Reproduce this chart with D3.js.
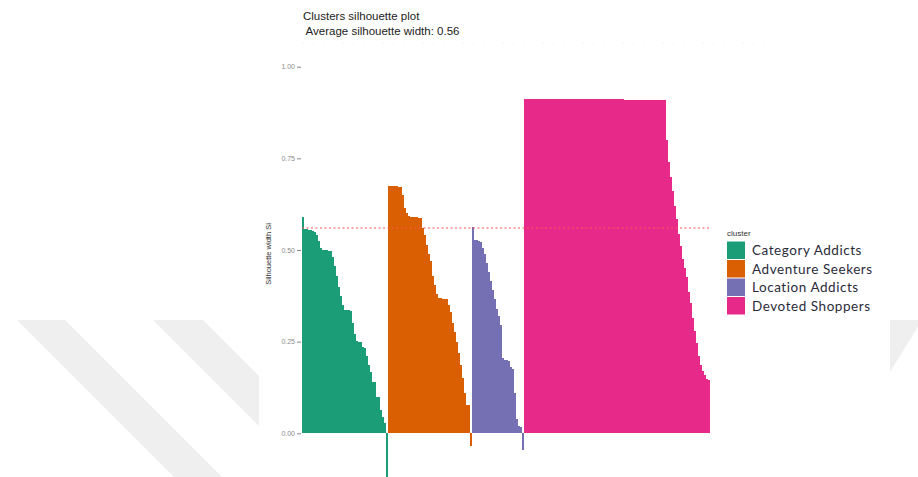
<!DOCTYPE html>
<html>
<head>
<meta charset="utf-8">
<script src="https://cdn.jsdelivr.net/npm/d3@7"></script>
<style>
  body { margin: 0; background: #fff; }
  svg { display: block; }
</style>
</head>
<body>
<script>
// silhouette widths per cluster, sorted as in the plot
const clusters = ['Category Addicts', 'Adventure Seekers', 'Location Addicts', 'Devoted Shoppers'];
const categoryAddicts = [0.59, 0.556, 0.556, 0.555, 0.555, 0.553, 0.55, 0.54, 0.525, 0.505,
  0.5, 0.5, 0.5, 0.498, 0.497, 0.48, 0.455, 0.43, 0.4, 0.375, 0.35,
  0.336, 0.336, 0.335, 0.333, 0.3, 0.27, 0.252, 0.25, 0.248, 0.235, 0.232,
  0.21, 0.185, 0.168, 0.14, 0.14, 0.1, 0.1, 0.064, 0.045, 0.028, -0.13];
const adventureSeekers = [0.675, 0.675, 0.675, 0.675, 0.674, 0.673, 0.672,
  0.65, 0.615, 0.6, 0.592, 0.59, 0.59, 0.59, 0.589, 0.588, 0.587,
  0.56, 0.54, 0.515, 0.49, 0.47, 0.43, 0.405, 0.38,
  0.368, 0.368, 0.367, 0.366, 0.365, 0.35,
  0.33, 0.3, 0.275, 0.25, 0.22, 0.185, 0.15, 0.11, 0.077, 0.076, -0.036];
const locationAddicts = [0.563, 0.527, 0.527, 0.525, 0.522, 0.505, 0.49,
  0.465, 0.44, 0.415, 0.39, 0.365, 0.34, 0.32, 0.295,
  0.205, 0.2, 0.2, 0.198, 0.18, 0.175, 0.11, 0.04, 0.02, 0.017, -0.045];
const devotedShoppers = [
  0.912, 0.912, 0.912, 0.912, 0.912, 0.912, 0.912, 0.912, 0.912, 0.912,
  0.912, 0.912, 0.912, 0.912, 0.912, 0.912, 0.912, 0.912, 0.912, 0.912,
  0.911, 0.911, 0.911, 0.911, 0.911, 0.911, 0.911, 0.911, 0.911, 0.911,
  0.911, 0.911, 0.911, 0.911, 0.911, 0.911, 0.911, 0.911, 0.911, 0.911,
  0.911, 0.911, 0.911, 0.911, 0.911, 0.911, 0.911, 0.911, 0.911, 0.911,
  0.91, 0.91, 0.91, 0.91, 0.91, 0.91, 0.91, 0.91, 0.91, 0.91,
  0.91, 0.91, 0.91, 0.91, 0.91, 0.91, 0.91, 0.91, 0.91, 0.91,
  0.909,
  0.8, 0.74, 0.7, 0.66, 0.62, 0.585, 0.545, 0.51, 0.475, 0.45,
  0.425, 0.385, 0.355, 0.315, 0.28, 0.245, 0.21, 0.186, 0.17, 0.16,
  0.147, 0.145];
const yTicks = [0, 0.25, 0.5, 0.75, 1];
const avgWidth = 0.56;

const colors = ['#1B9E77', '#D95F02', '#7570B3', '#E7298A'];

const W = 918, H = 477;
const svg = d3.select('body').append('svg').attr('width', W).attr('height', H);

// faint watermark stripes behind the pasted plot
const stripe = '#efefef';
svg.append('polygon').attr('points', '17,320 65,320 222,477 174,477').attr('fill', stripe);
svg.append('polygon').attr('points', '153,320 203,320 360,477 310,477').attr('fill', stripe);
svg.append('polygon').attr('points', '890,320 922,320 890,372').attr('fill', stripe);
svg.append('rect').attr('x', 259).attr('y', 0).attr('width', 631).attr('height', H).attr('fill', '#fff');

const rows = [];
[categoryAddicts, adventureSeekers, locationAddicts, devotedShoppers].forEach((vals, c) => {
  vals.forEach((v) => rows.push({ cluster: c, value: v, id: rows.length }));
});

const x = d3.scaleBand().domain(rows.map((d) => d.id)).range([302, 710]).padding(0);
const y = d3.scaleLinear().domain([0, 1]).range([433.3, 66.7]);

svg.append('g')
  .attr('shape-rendering', 'crispEdges')
  .selectAll('rect')
  .data(rows)
  .join('rect')
  .attr('x', (d) => x(d.id))
  .attr('width', x.bandwidth())
  .attr('y', (d) => y(Math.max(0, d.value)))
  .attr('height', (d) => Math.abs(y(d.value) - y(0)))
  .attr('fill', (d) => colors[d.cluster]);

// average silhouette line
svg.append('line')
  .attr('x1', 302).attr('x2', 710)
  .attr('y1', y(avgWidth)).attr('y2', y(avgWidth))
  .attr('stroke', '#f55')
  .attr('stroke-width', 1.2)
  .attr('stroke-dasharray', '2,2.5');

// y axis (ticks only, no domain line)
const yAxis = svg.append('g')
  .attr('transform', 'translate(301,0)')
  .call(d3.axisLeft(y).tickValues(yTicks).tickFormat(d3.format('.2f')).tickSize(4).tickPadding(2));
yAxis.select('.domain').remove();
yAxis.selectAll('line').attr('stroke', '#888');
yAxis.selectAll('text')
  .attr('fill', '#8c8c8c')
  .style('font-family', 'Liberation Sans, Arial, sans-serif')
  .style('font-size', '7px');

svg.append('text')
  .attr('transform', 'translate(271,254) rotate(-90)')
  .attr('text-anchor', 'middle')
  .style('font-family', 'Liberation Sans, Arial, sans-serif')
  .style('font-size', '7.5px')
  .attr('fill', '#333')
  .text('Silhouette width Si');

// titles
svg.append('text')
  .attr('x', 303).attr('y', 20)
  .style('font-family', 'Liberation Sans, Arial, sans-serif')
  .style('font-size', '11.5px')
  .attr('fill', '#222')
  .text('Clusters silhouette plot');
svg.append('text')
  .attr('x', 303).attr('y', 35)
  .attr('xml:space', 'preserve')
  .style('font-family', 'Liberation Sans, Arial, sans-serif')
  .style('font-size', '11.5px')
  .attr('fill', '#222')
  .text(' Average silhouette width: ' + avgWidth.toFixed(2));

svg.append('line')
  .attr('x1', 303).attr('x2', 770).attr('y1', 43).attr('y2', 43)
  .attr('stroke', '#ececec')
  .attr('stroke-dasharray', '1,9');

// legend
const legend = svg.append('g').attr('transform', 'translate(727,0)');
legend.append('text')
  .attr('x', 0).attr('y', 236)
  .style('font-family', 'Liberation Sans, Arial, sans-serif')
  .style('font-size', '8px')
  .attr('fill', '#333')
  .text('cluster');

const items = legend.selectAll('.key')
  .data(clusters)
  .join('g')
  .attr('class', 'key')
  .attr('transform', (d, i) => `translate(0,${241.5 + i * 18.5})`);
items.append('rect')
  .attr('width', 18).attr('height', 17.5)
  .attr('fill', (d, i) => colors[i]);
items.append('text')
  .attr('x', 25).attr('y', 13.5)
  .style('font-family', 'Lato, sans-serif')
  .style('font-size', '13.5px')
  .style('letter-spacing', '0.55px')
  .attr('fill', '#2b2b3a')
  .text((d) => d);
</script>
</body>
</html>
